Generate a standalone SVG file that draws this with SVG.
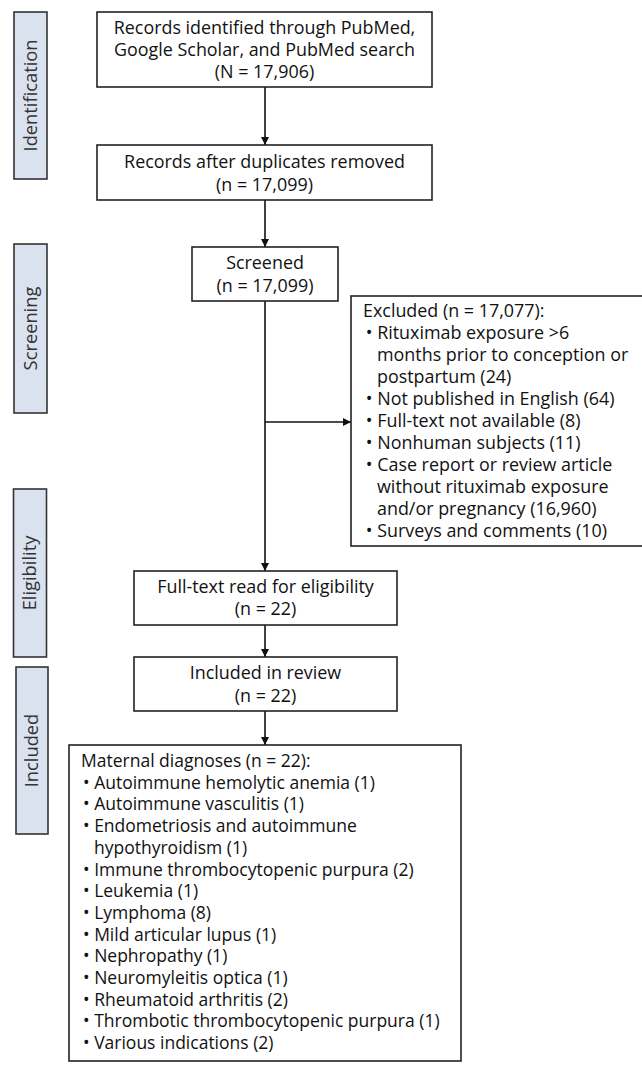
<svg xmlns="http://www.w3.org/2000/svg" width="642" height="1076" viewBox="0 0 642 1076">
<style>
.box{fill:#fff;stroke:#222;stroke-width:1.6}
.lab{fill:#dae2ef;stroke:#333;stroke-width:1.6}
text{font-family:"Open Sans","Noto Sans","DejaVu Sans",sans-serif;font-size:17.9px;fill:#111}
.c{text-anchor:middle}
.lt{fill:#333;font-size:18.3px}
.m{font-size:17.5px}
.ln{stroke:#111;stroke-width:1.6;fill:none}
</style>
<defs>
<marker id="ah" viewBox="0 0 10 10" refX="10" refY="5" markerWidth="8" markerHeight="8" markerUnits="userSpaceOnUse" orient="auto">
<path d="M0,0 L10,5 L0,10 z" fill="#111"/>
</marker>
</defs>
<rect width="642" height="1076" fill="#fff"/>
<g id="label-identification"><rect class="lab" x="14" y="12" width="33" height="167"/><text class="c lt" transform="translate(36.5,95.5) rotate(-90)">Identification</text></g>
<g id="label-screening"><rect class="lab" x="14" y="244" width="33" height="169"/><text class="c lt" transform="translate(36.5,328.5) rotate(-90)">Screening</text></g>
<g id="label-eligibility"><rect class="lab" x="13.5" y="489" width="33" height="168"/><text class="c lt" transform="translate(36,573) rotate(-90)">Eligibility</text></g>
<g id="label-included"><rect class="lab" x="16" y="667" width="32" height="167"/><text class="c lt" transform="translate(38,750.5) rotate(-90)">Included</text></g>
<g id="connectors">
<line class="ln" x1="265" y1="87" x2="265" y2="145" marker-end="url(#ah)"/>
<line class="ln" x1="265" y1="200" x2="265" y2="247" marker-end="url(#ah)"/>
<line class="ln" x1="265" y1="301" x2="265" y2="571" marker-end="url(#ah)"/>
<line class="ln" x1="265" y1="422" x2="351" y2="422" marker-end="url(#ah)"/>
<line class="ln" x1="265" y1="625" x2="265" y2="657" marker-end="url(#ah)"/>
<line class="ln" x1="265" y1="711" x2="265" y2="745" marker-end="url(#ah)"/>
</g>
<g id="records-identified"><rect class="box" x="97" y="12" width="335" height="75"/>
<text class="c"><tspan x="264.5" y="34">Records identified through PubMed,</tspan><tspan x="264.5" y="56">Google Scholar, and PubMed search</tspan><tspan x="264.5" y="78">(N = 17,906)</tspan></text></g>
<g id="duplicates-removed"><rect class="box" x="97" y="145" width="335" height="55"/>
<text class="c"><tspan x="264.5" y="168">Records after duplicates removed</tspan><tspan x="264.5" y="191">(n = 17,099)</tspan></text></g>
<g id="screened"><rect class="box" x="192" y="247" width="146" height="54"/>
<text class="c"><tspan x="265" y="269">Screened</tspan><tspan x="265" y="292">(n = 17,099)</tspan></text></g>
<g id="excluded"><rect class="box" x="351" y="296" width="300" height="250"/>
<text xml:space="preserve"><tspan x="363" y="317">Excluded (n = 17,077):</tspan><tspan x="365.8" y="339">• Rituximab exposure &gt;6</tspan><tspan x="377" y="361">months prior to conception or</tspan><tspan x="377" y="383">postpartum (24)</tspan><tspan x="365.8" y="405">• Not published in English (64)</tspan><tspan x="365.8" y="427">• Full-text not available (8)</tspan><tspan x="365.8" y="449">• Nonhuman subjects (11)</tspan><tspan x="365.8" y="471">• Case report or review article</tspan><tspan x="377" y="493">without rituximab exposure</tspan><tspan x="377" y="515">and/or pregnancy (16,960)</tspan><tspan x="365.8" y="537">• Surveys and comments (10)</tspan></text></g>
<g id="full-text"><rect class="box" x="134" y="571" width="263" height="54"/>
<text class="c"><tspan x="265.5" y="593">Full-text read for eligibility</tspan><tspan x="265.5" y="615">(n = 22)</tspan></text></g>
<g id="included-review"><rect class="box" x="134" y="657" width="263" height="54"/>
<text class="c"><tspan x="265.5" y="679">Included in review</tspan><tspan x="265.5" y="702">(n = 22)</tspan></text></g>
<g id="maternal-diagnoses"><rect class="box" x="69" y="745" width="392" height="316"/>
<text class="m" xml:space="preserve"><tspan x="81" y="767">Maternal diagnoses (n = 22):</tspan><tspan x="83" y="788.7">• Autoimmune hemolytic anemia (1)</tspan><tspan x="83" y="810.4">• Autoimmune vasculitis (1)</tspan><tspan x="83" y="832.1">• Endometriosis and autoimmune</tspan><tspan x="94" y="853.8">hypothyroidism (1)</tspan><tspan x="83" y="875.5">• Immune thrombocytopenic purpura (2)</tspan><tspan x="83" y="897.2">• Leukemia (1)</tspan><tspan x="83" y="918.9">• Lymphoma (8)</tspan><tspan x="83" y="940.6">• Mild articular lupus (1)</tspan><tspan x="83" y="962.3">• Nephropathy (1)</tspan><tspan x="83" y="984">• Neuromyleitis optica (1)</tspan><tspan x="83" y="1005.7">• Rheumatoid arthritis (2)</tspan><tspan x="83" y="1027.4">• Thrombotic thrombocytopenic purpura (1)</tspan><tspan x="83" y="1049.1">• Various indications (2)</tspan></text></g>
</svg>
